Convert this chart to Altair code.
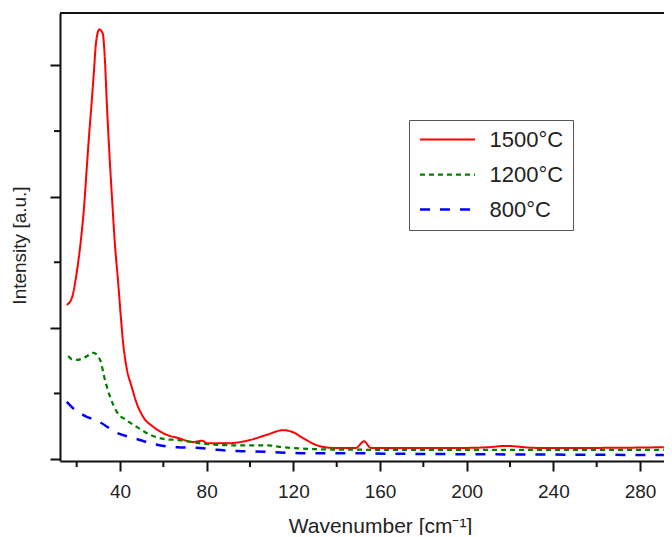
import altair as alt
import pandas as pd

# ---- data ----
series_names = ["1500°C", "1200°C", "800°C"]

red_x = [15.4, 17.7, 20.0, 22.3, 23.4, 24.6, 25.8, 26.9, 28.0, 28.9, 30.45, 32.0, 33.1,
         33.9, 35.1, 36.45, 37.7, 39.0, 40.3, 41.5, 43.1, 45.4, 47.7, 50.75, 55.4, 61.5,
         66.9, 73.7, 78.0, 80.1, 89.4, 100.0, 107.8, 115.2, 119.8, 124.4, 130.9, 138.3,
         148.9, 152.6, 155.8, 170.0, 200.0, 210.0, 218.1, 232.0, 260.0, 291.0]
red_y = [2.35, 2.45, 2.84, 3.45, 3.84, 4.41, 4.97, 5.43, 5.93, 6.34, 6.55, 6.49, 6.04,
         5.43, 4.66, 3.90, 3.25, 2.75, 2.20, 1.75, 1.38, 1.10, 0.85, 0.64, 0.49, 0.37,
         0.32, 0.26, 0.28, 0.24, 0.24, 0.29, 0.37, 0.44, 0.41, 0.32, 0.21, 0.17,
         0.17, 0.27, 0.17, 0.17, 0.17, 0.18, 0.20, 0.17, 0.17, 0.18]

green_x = [16.1, 17.8, 20.0, 23.8, 27.7, 30.8, 33.1, 35.4, 38.5, 43.1, 47.7, 53.85, 61.5,
           66.9, 76.9, 92.1, 107.8, 115.2, 130.9, 138.3, 170.0, 220.0, 260.0, 291.0]
green_y = [1.57, 1.52, 1.51, 1.55, 1.62, 1.51, 1.20, 0.95, 0.72, 0.59, 0.49, 0.37, 0.30,
           0.29, 0.24, 0.21, 0.21, 0.18, 0.15, 0.145, 0.14, 0.14, 0.14, 0.14]

blue_x = [15.4, 19.2, 23.1, 30.8, 38.5, 46.2, 55.4, 66.3, 76.9, 84.8, 95.4, 107.8, 123.1,
          138.3, 169.2, 220.0, 260.0, 291.0]
blue_y = [0.87, 0.75, 0.67, 0.56, 0.40, 0.32, 0.23, 0.18, 0.17, 0.14, 0.12, 0.11, 0.09,
          0.09, 0.08, 0.07, 0.065, 0.06]

x_major = [40, 80, 120, 160, 200, 240, 280]
x_minor = [20, 60, 100, 140, 180, 220, 260]
y_major = [0, 2, 4, 6]
y_minor = [1, 3, 5]

rows = []
for name, xs, ys in zip(series_names, [red_x, green_x, blue_x], [red_y, green_y, blue_y]):
    for i, (a, b) in enumerate(zip(xs, ys)):
        rows.append({"series": name, "v": a, "I": b, "order": i})
df = pd.DataFrame(rows)

FONT = "Liberation Sans"
W, H = 604, 448
xscale = alt.Scale(domain=[12.3, 12.3 + W / 2.1667], nice=False, zero=False)
yscale = alt.Scale(domain=[-0.03, 6.80], nice=False, zero=False)

legend_kw = dict(title=None, orient="none", legendX=349, legendY=107,
                 symbolType="stroke", symbolSize=3025, symbolStrokeWidth=2.5,
                 labelFontSize=22, labelFont=FONT, labelColor="#222", labelOffset=13,
                 rowPadding=13, padding=9.5, strokeColor="#555", labelLimit=200,
                 clipHeight=20)

lines = alt.Chart(df).mark_line(interpolate="monotone").encode(
    x=alt.X("v:Q", scale=xscale,
            axis=alt.Axis(title="Wavenumber [cm⁻¹]", values=x_major, format="d",
                          tickSize=10, tickWidth=2, domainWidth=2, domainColor="#111",
                          tickColor="#111", labelFontSize=19, labelPadding=11,
                          labelColor="#222", titleFontSize=21, titleFontWeight="normal",
                          titleColor="#222", titleX=320, titleY=71,
                          titleBaseline="alphabetic", grid=False, labelFont=FONT,
                          titleFont=FONT)),
    y=alt.Y("I:Q", scale=yscale,
            axis=alt.Axis(title="Intensity [a.u.]", values=y_major, labels=False,
                          tickSize=10, tickWidth=2, domainWidth=2, domainColor="#111",
                          tickColor="#111", titleFontSize=19, titleFontWeight="normal",
                          titleColor="#222", titleX=-35, titleY=232,
                          titleBaseline="alphabetic", grid=False, titleFont=FONT)),
    color=alt.Color("series:N",
                    scale=alt.Scale(domain=series_names, range=["#ff0000", "#008000", "#0000ff"]),
                    legend=alt.Legend(**legend_kw)),
    strokeDash=alt.StrokeDash("series:N",
                              scale=alt.Scale(domain=series_names,
                                              range=[[1, 0], [5, 4], [10, 10]]),
                              legend=alt.Legend(**legend_kw)),
    strokeWidth=alt.StrokeWidth("series:N",
                                scale=alt.Scale(domain=series_names, range=[2, 2.5, 3]),
                                legend=None),
    order="order:Q",
)

xminor = alt.Chart(pd.DataFrame({"v": x_minor})).mark_rule(color="#111", strokeWidth=2).encode(
    x=alt.X("v:Q", scale=xscale),
    y=alt.value(H), y2=alt.value(H + 6),
)
yminor = alt.Chart(pd.DataFrame({"I": y_minor})).mark_rule(color="#111", strokeWidth=2).encode(
    y=alt.Y("I:Q", scale=yscale),
    x=alt.value(-6), x2=alt.value(0),
)
# top frame line of the plot box
topframe = alt.Chart(pd.DataFrame({"k": [0]})).mark_rule(color="#111", strokeWidth=2).encode(
    x=alt.value(0), x2=alt.value(W + 2), y=alt.value(0),
)

chart = alt.layer(lines, xminor, yminor, topframe).properties(
    width=W, height=H,
    padding={"left": 52, "top": 5, "right": 0, "bottom": 74},
    autosize=alt.AutoSizeParams(type="none"),
).configure_view(stroke=None).configure(background="white")

chart.save("out.html", embed_options={"renderer": "svg", "actions": False})
